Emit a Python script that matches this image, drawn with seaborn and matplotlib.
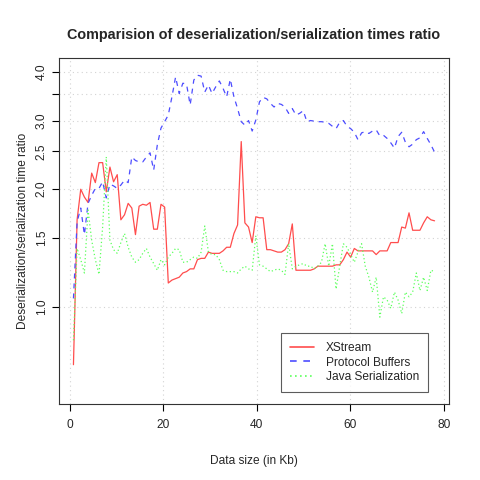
import numpy as np
import pandas as pd
import matplotlib
matplotlib.use('Agg')
import matplotlib.pyplot as plt
from matplotlib.ticker import FixedLocator, NullLocator
from matplotlib.lines import Line2D
import seaborn as sns

# data size in Kb (100 measurements)
data_size = np.round(np.arange(1, 101) * 0.78, 2)

xstream = [0.71, 1.67, 2.00, 1.91, 1.85, 2.20, 2.08, 2.34, 2.34, 1.97,
           2.28, 2.09, 2.18, 1.67, 1.72, 1.84, 1.79, 1.53, 1.81, 1.83,
           1.82, 1.85, 1.58, 1.58, 1.83, 1.80, 1.15, 1.17, 1.18, 1.19,
           1.22, 1.23, 1.25, 1.25, 1.32, 1.33, 1.33, 1.38, 1.37, 1.37,
           1.37, 1.39, 1.42, 1.42, 1.54, 1.62, 2.65, 1.64, 1.60, 1.46,
           1.70, 1.69, 1.69, 1.40, 1.40, 1.39, 1.38, 1.38, 1.40, 1.45,
           1.63, 1.24, 1.24, 1.24, 1.24, 1.24, 1.25, 1.27, 1.27, 1.27,
           1.27, 1.27, 1.28, 1.28, 1.32, 1.38, 1.34, 1.41, 1.39, 1.39,
           1.39, 1.39, 1.39, 1.36, 1.39, 1.39, 1.39, 1.46, 1.46, 1.46,
           1.60, 1.59, 1.74, 1.57, 1.57, 1.57, 1.64, 1.70, 1.67, 1.66]

protobuf = [1.05, 1.65, 1.79, 1.53, 1.84, 1.93, 2.01, 2.01, 2.09, 1.90,
            2.06, 2.04, 2.01, 2.05, 2.11, 2.08, 2.42, 2.37, 2.35, 2.35,
            2.42, 2.48, 2.24, 2.60, 2.87, 2.98, 3.10, 3.45, 3.88, 3.52,
            3.74, 3.72, 3.29, 3.81, 3.92, 3.90, 3.55, 3.70, 3.52, 3.66,
            3.79, 3.63, 3.45, 3.83, 3.45, 3.22, 2.98, 2.92, 3.00, 2.82,
            3.01, 3.35, 3.44, 3.41, 3.32, 3.25, 3.32, 3.30, 3.25, 3.13,
            3.22, 3.10, 3.13, 3.18, 2.98, 3.00, 2.99, 2.98, 2.98, 2.97,
            2.95, 2.90, 2.86, 2.97, 3.00, 2.90, 2.86, 2.80, 2.68, 2.79,
            2.81, 2.78, 2.82, 2.84, 2.74, 2.75, 2.70, 2.63, 2.55, 2.73,
            2.80, 2.64, 2.57, 2.61, 2.68, 2.71, 2.81, 2.70, 2.60, 2.49]

java_ser = [0.82, 1.41, 1.32, 1.22, 1.77, 1.48, 1.32, 1.21, 1.60, 2.42,
            1.48, 1.40, 1.37, 1.46, 1.54, 1.42, 1.34, 1.30, 1.32, 1.37,
            1.41, 1.34, 1.29, 1.24, 1.32, 1.28, 1.34, 1.37, 1.41, 1.40,
            1.30, 1.30, 1.32, 1.34, 1.33, 1.38, 1.61, 1.38, 1.36, 1.36,
            1.32, 1.24, 1.23, 1.23, 1.23, 1.22, 1.25, 1.27, 1.25, 1.24,
            1.52, 1.28, 1.27, 1.25, 1.23, 1.24, 1.25, 1.24, 1.21, 1.45,
            1.25, 1.27, 1.28, 1.29, 1.27, 1.27, 1.25, 1.27, 1.30, 1.45,
            1.27, 1.45, 1.11, 1.27, 1.45, 1.42, 1.36, 1.30, 1.38, 1.45,
            1.27, 1.19, 1.09, 1.19, 0.94, 1.06, 1.04, 0.99, 1.09, 1.04,
            0.96, 1.09, 1.06, 1.09, 1.22, 1.10, 1.19, 1.10, 1.24, 1.23]

series_names = ['XStream', 'Protocol Buffers', 'Java Serialization']
y_ticks = [1.0, 1.5, 2.0, 2.5, 3.0, 3.5, 4.0]
y_labels = ['1.0', '1.5', '2.0', '2.5', '3.0', '', '4.0']
x_ticks = [0, 20, 40, 60, 80]

df = pd.DataFrame({
    'size': np.tile(data_size, 3),
    'ratio': xstream + protobuf + java_ser,
    'series': np.repeat(series_names, len(data_size)),
})

colors = {'XStream': '#ff4d4d', 'Protocol Buffers': '#4d4dff', 'Java Serialization': '#5cff5c'}
dashes = {'XStream': '', 'Protocol Buffers': (4, 4), 'Java Serialization': (1, 2)}

sns.set_style('white')
plt.rcParams['font.family'] = ['Liberation Sans', 'DejaVu Sans']

fig = plt.figure(figsize=(4.8, 4.8), dpi=100)
ax = fig.add_axes([59 / 480, 76 / 480, 390 / 480, 346 / 480])

# grid first so it sits under the lines
ax.set_axisbelow(True)
for xv in x_ticks:
    ax.axvline(xv, color='#d3d3d3', lw=0.8, ls=(0, (1, 3)), zorder=0)
for yv in y_ticks:
    ax.axhline(yv, color='#d3d3d3', lw=0.8, ls=(0, (1, 3)), zorder=0)

sns.lineplot(data=df, x='size', y='ratio', hue='series', style='series',
             palette=colors, dashes=dashes, estimator=None, sort=False,
             linewidth=0.9, legend=False, ax=ax)

ax.set_yscale('log')
ax.set_xlim(-2.31, 81.09)
ax.set_ylim(0.563, 4.34)
ax.yaxis.set_major_locator(FixedLocator(y_ticks))
ax.yaxis.set_minor_locator(NullLocator())
ax.set_yticklabels(y_labels, rotation=90, va='center')
ax.set_xticks(x_ticks)
ax.set_xticklabels([str(v) for v in x_ticks])

ax.tick_params(axis='both', direction='out', length=5, width=0.8, color='black',
               labelsize=8.6, left=True, bottom=True)
ax.tick_params(axis='x', pad=6)
ax.tick_params(axis='y', pad=3)
for sp in ax.spines.values():
    sp.set_visible(True)
    sp.set_color('#333333')
    sp.set_linewidth(0.8)

ax.set_title('Comparision of deserialization/serialization times ratio',
             fontsize=10.4, fontweight='bold', pad=14)
ax.set_xlabel('Data size (in Kb)', fontsize=8.6, labelpad=17)
ax.set_ylabel('Deserialization/serialization time ratio', fontsize=8.6, labelpad=5)

handles = [Line2D([], [], color=colors[n], lw=1.2,
                  ls='-' if dashes[n] == '' else (0, dashes[n])) for n in series_names]
leg = ax.legend(handles, series_names, loc='lower right', bbox_to_anchor=(0.946, 0.035),
                borderaxespad=0, fontsize=8.6, frameon=True, fancybox=False,
                edgecolor='#333333', handlelength=2.0, borderpad=0.75,
                labelspacing=0.2, handletextpad=1.0)
leg.get_frame().set_linewidth(0.8)

fig.savefig('out.png', dpi=100)
